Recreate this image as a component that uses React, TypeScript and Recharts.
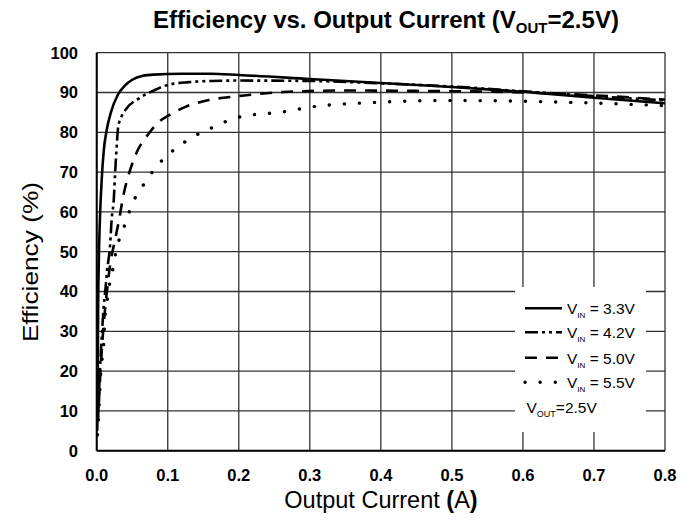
import { LineChart, Line, XAxis, YAxis, CartesianGrid, Customized } from 'recharts';

const FONT = '"Liberation Sans", Arial, sans-serif';

// output current (A) / efficiency (%)
const current33 = [0.0008, 0.0015, 0.002, 0.003, 0.0045, 0.007, 0.01, 0.014, 0.02, 0.03, 0.04, 0.05, 0.065, 0.08, 0.12, 0.16, 0.2, 0.3, 0.4, 0.5, 0.6, 0.7, 0.8];
const eff33 = [5, 20, 35, 48, 58, 68, 75.5, 80.5, 85, 89.5, 91.8, 93.2, 94.2, 94.5, 94.7, 94.7, 94.4, 93.4, 92.4, 91.4, 90.2, 88.7, 87.3];

const current42 = [0.002, 0.004, 0.006, 0.0098, 0.012, 0.0145, 0.019, 0.021, 0.024, 0.026, 0.028, 0.03, 0.035, 0.042, 0.06, 0.084, 0.1, 0.13, 0.16, 0.2, 0.3, 0.4, 0.5, 0.6, 0.7, 0.8];
const eff42 = [8, 18, 25, 36, 40, 45, 52, 58, 63, 70, 76, 81, 84, 86, 88.6, 90.8, 91.9, 92.6, 92.9, 93, 92.9, 92.3, 91.5, 90.3, 89.1, 88];

const current50 = [0.003, 0.006, 0.01, 0.015, 0.02, 0.024, 0.031, 0.038, 0.047, 0.058, 0.07, 0.088, 0.102, 0.125, 0.158, 0.2, 0.27, 0.35, 0.45, 0.55, 0.65, 0.8];
const eff50 = [12, 22, 32, 41, 48, 51.5, 57.5, 64.5, 70.5, 75.6, 78.9, 82.7, 84.3, 86.4, 88.1, 89.1, 90.2, 90.5, 90.4, 90.2, 89.7, 88.2];

const current55 = [0.001, 0.003, 0.006, 0.0098, 0.012, 0.016, 0.019, 0.024, 0.028, 0.034, 0.042, 0.05, 0.063, 0.077, 0.095, 0.114, 0.137, 0.158, 0.2, 0.265, 0.3, 0.39, 0.5, 0.6, 0.69, 0.8];
const eff55 = [4, 10, 20, 27, 34.5, 39, 43, 46.6, 51, 54, 58, 62, 66, 69.7, 73.5, 76.3, 79, 80.8, 83.8, 85.2, 86.3, 87.5, 88, 87.8, 87.4, 86.7];

const vinLabels = ['3.3V', '4.2V', '5.0V', '5.5V'];
const xTicks = [0, 0.1, 0.2, 0.3, 0.4, 0.5, 0.6, 0.7, 0.8];
const yTicks = [0, 10, 20, 30, 40, 50, 60, 70, 80, 90, 100];

const toPoints = (xs: number[], ys: number[]) => xs.map((x, i) => ({ current: x, eff: ys[i] }));

const SERIES = [
  { key: 'v33', data: toPoints(current33, eff33), dash: undefined, width: 2.6, cap: 'butt' },
  { key: 'v42', data: toPoints(current42, eff42), dash: '13 4 3 4 3 4', width: 2.6, cap: 'butt' },
  { key: 'v50', data: toPoints(current50, eff50), dash: '12 9', width: 2.6, cap: 'butt' },
  { key: 'v55', data: toPoints(current55, eff55), dash: '0.1 15', width: 3.4, cap: 'round' },
];

function Labels() {
  return (
    <g fontFamily={FONT} fill="#000">
      <text x={386} y={28} textAnchor="middle" fontSize={24} fontWeight="bold">
        Efficiency vs. Output Current (V
        <tspan fontSize={15} dy={5}>OUT</tspan>
        <tspan dy={-5}>=2.5V)</tspan>
      </text>
      <text x={381} y={508} textAnchor="middle" fontSize={23.5}>
        Output Current <tspan fontWeight="bold">(</tspan>A<tspan fontWeight="bold">)</tspan>
      </text>
      <text
        transform="translate(38,262) rotate(-90)"
        textAnchor="middle"
        fontSize={22}
        textLength={160}
        lengthAdjust="spacingAndGlyphs"
      >
        Efficiency (%)
      </text>
    </g>
  );
}

function LegendBox() {
  const rows = [21.3, 45.3, 70.7, 95.3];
  return (
    <div style={{ position: 'absolute', left: 515, top: 287, width: 131, height: 145, background: '#fff' }}>
      <svg width={131} height={145} style={{ display: 'block' }}>
        {SERIES.map((s, i) => (
          <g key={s.key}>
            <line
              x1={10}
              x2={47}
              y1={rows[i]}
              y2={rows[i]}
              stroke="#000"
              strokeWidth={s.width}
              strokeDasharray={s.dash}
              strokeLinecap={s.cap as 'butt' | 'round'}
            />
            <text x={52} y={rows[i] + 6} fontFamily={FONT} fontSize={15.5} fill="#000">
              V<tspan fontSize={8} dy={4}>IN</tspan>
              <tspan dy={-4}> = {vinLabels[i]}</tspan>
            </text>
          </g>
        ))}
        <text x={11.5} y={125.7} fontFamily={FONT} fontSize={15.5} fill="#000">
          V<tspan fontSize={9} dy={4}>OUT</tspan>
          <tspan dy={-4}>=2.5V</tspan>
        </text>
      </svg>
    </div>
  );
}

export default function App() {
  return (
    <div style={{ position: 'absolute', left: 0, top: 0, width: 698, height: 525, background: '#fff' }}>
      <LineChart width={698} height={525} margin={{ top: 52.7, right: 33, bottom: 44.3, left: 36.7 }}>
        <CartesianGrid stroke="#333" strokeWidth={1.3} />
        <XAxis
          type="number"
          dataKey="current"
          domain={[0, 0.8]}
          ticks={xTicks}
          height={30}
          allowDataOverflow
          tickFormatter={(v: number) => v.toFixed(1)}
          tickSize={0}
          tickMargin={19}
          axisLine={{ stroke: '#000', strokeWidth: 2 }}
          tick={{ fill: '#000', fontSize: 16.5, fontWeight: 'bold', fontFamily: FONT }}
        />
        <YAxis
          type="number"
          dataKey="eff"
          domain={[0, 100]}
          ticks={yTicks}
          width={60}
          allowDataOverflow
          tickSize={0}
          tickMargin={18.7}
          axisLine={{ stroke: '#000', strokeWidth: 2 }}
          tick={{ fill: '#000', fontSize: 16.5, fontWeight: 'bold', fontFamily: FONT }}
        />
        {SERIES.map((s) => (
          <Line
            key={s.key}
            data={s.data}
            dataKey="eff"
            type="monotone"
            stroke="#000"
            strokeWidth={s.width}
            strokeDasharray={s.dash}
            strokeLinecap={s.cap as 'butt' | 'round'}
            dot={false}
            activeDot={false}
            isAnimationActive={false}
          />
        ))}
        <Customized component={Labels} />
      </LineChart>
      <LegendBox />
    </div>
  );
}
